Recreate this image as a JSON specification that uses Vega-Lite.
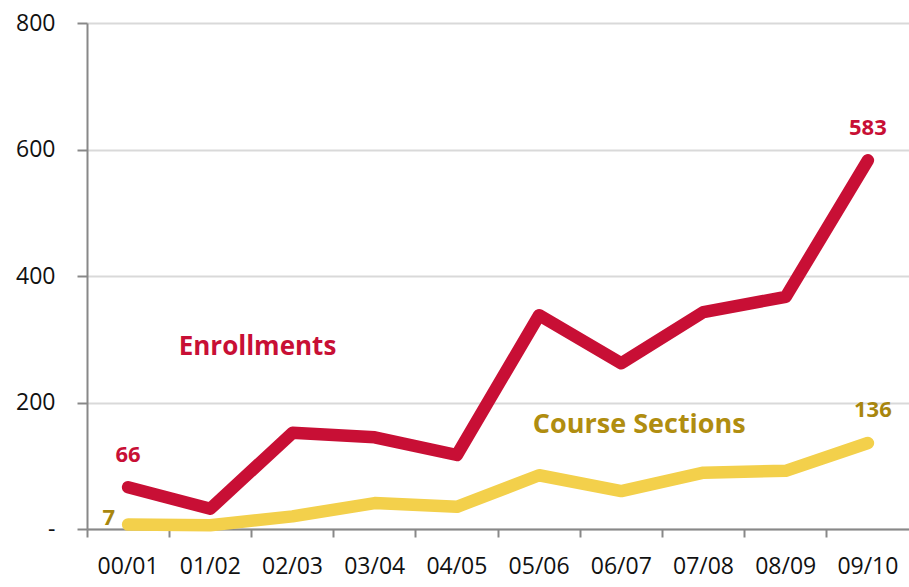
{
  "$schema": "https://vega.github.io/schema/vega-lite/v6.json",
  "width": 822,
  "height": 506,
  "autosize": {"type": "none"},
  "padding": {"left": 87, "top": 23, "right": 0, "bottom": 58},
  "background": "white",
  "config": {
    "view": {"stroke": null},
    "font": "Open Sans",
    "axis": {"labelFont": "Open Sans", "labelFontSize": 23, "labelColor": "#111111"}
  },
  "datasets": {
    "series": [
      {"year": "00/01", "series": "Course Sections", "value": 7},
      {"year": "01/02", "series": "Course Sections", "value": 6},
      {"year": "02/03", "series": "Course Sections", "value": 20},
      {"year": "03/04", "series": "Course Sections", "value": 41},
      {"year": "04/05", "series": "Course Sections", "value": 35},
      {"year": "05/06", "series": "Course Sections", "value": 85},
      {"year": "06/07", "series": "Course Sections", "value": 60},
      {"year": "07/08", "series": "Course Sections", "value": 89},
      {"year": "08/09", "series": "Course Sections", "value": 92},
      {"year": "09/10", "series": "Course Sections", "value": 136},
      {"year": "00/01", "series": "Enrollments", "value": 66},
      {"year": "01/02", "series": "Enrollments", "value": 32},
      {"year": "02/03", "series": "Enrollments", "value": 152},
      {"year": "03/04", "series": "Enrollments", "value": 145},
      {"year": "04/05", "series": "Enrollments", "value": 117},
      {"year": "05/06", "series": "Enrollments", "value": 338},
      {"year": "06/07", "series": "Enrollments", "value": 262},
      {"year": "07/08", "series": "Enrollments", "value": 343},
      {"year": "08/09", "series": "Enrollments", "value": 367},
      {"year": "09/10", "series": "Enrollments", "value": 583}
    ],
    "labels": [
      {"year": "00/01", "value": 66, "text": "66", "kind": "enr_top"},
      {"year": "09/10", "value": 583, "text": "583", "kind": "enr_top_r"},
      {"year": "09/10", "value": 136, "text": "136", "kind": "cs_top_r"},
      {"year": "00/01", "value": 7, "text": "7", "kind": "cs_left"},
      {"year": "02/03", "value": 288, "text": "Enrollments", "kind": "enr_name"},
      {"year": "06/07", "value": 164, "text": "Course Sections", "kind": "cs_name"}
    ]
  },
  "encoding": {
    "x": {
      "field": "year", "type": "ordinal", "axis": null,
      "scale": {"type": "band", "paddingInner": 0, "paddingOuter": 0,
        "domain": ["00/01","01/02","02/03","03/04","04/05","05/06","06/07","07/08","08/09","09/10"]}
    },
    "y": {
      "field": "value", "type": "quantitative",
      "scale": {"domain": [0, 800], "nice": false, "zero": true},
      "axis": {"title": null, "values": [0, 200, 400, 600, 800],
        "labelExpr": "datum.value == 0 ? '-\u00a0\u00a0' : datum.label",
        "tickSize": 10, "tickColor": "#888888", "tickWidth": 2,
        "domainColor": "#888888", "domainWidth": 2,
        "grid": true, "gridColor": "#d9d9d9", "gridWidth": 2,
        "labelPadding": 22}
    }
  },
  "layer": [
    {
      "data": {"name": "series"},
      "mark": {"type": "line", "strokeWidth": 12.5, "strokeCap": "round", "strokeJoin": "round"},
      "encoding": {
        "x": {
          "field": "year", "type": "ordinal",
          "axis": {"title": null, "orient": "bottom", "bandPosition": 0, "labels": false, "ticks": true, "tickSize": 8,
            "tickColor": "#888888", "tickWidth": 2, "domain": true, "domainColor": "#888888", "domainWidth": 2, "grid": false}
        },
        "color": {"field": "series", "type": "nominal", "legend": null,
          "scale": {"domain": ["Course Sections", "Enrollments"], "range": ["#F3D04B", "#C80F35"]}},
        "order": {"field": "year"}
      }
    },
    {
      "data": {"name": "labels"},
      "transform": [{"filter": "datum.kind == 'enr_top' || datum.kind == 'enr_top_r'"}],
      "mark": {"type": "text", "font": "Open Sans", "fontWeight": "bold", "fontSize": 22, "color": "#C80F35", "dy": -32, "baseline": "middle"},
      "encoding": {
        "x": {"field": "year", "type": "ordinal",
          "axis": {"title": null, "orient": "bottom", "labelAngle": 0, "labelPadding": 26, "tickSize": 8, "ticks": false, "domain": false, "grid": false}},
        "text": {"field": "text"}
      }
    },
    {
      "data": {"name": "labels"},
      "transform": [{"filter": "datum.kind == 'cs_top_r'"}],
      "mark": {"type": "text", "font": "Open Sans", "fontWeight": "bold", "fontSize": 22, "color": "#A8860E", "dy": -33, "dx": 5, "baseline": "middle"},
      "encoding": {"text": {"field": "text"}}
    },
    {
      "data": {"name": "labels"},
      "transform": [{"filter": "datum.kind == 'cs_left'"}],
      "mark": {"type": "text", "font": "Open Sans", "fontWeight": "bold", "fontSize": 22, "color": "#A8860E", "dx": -13, "dy": -7, "align": "right", "baseline": "middle"},
      "encoding": {"text": {"field": "text"}}
    },
    {
      "data": {"name": "labels"},
      "transform": [{"filter": "datum.kind == 'enr_name'"}],
      "mark": {"type": "text", "font": "Open Sans", "fontWeight": "bold", "fontSize": 26, "color": "#C80F35", "dx": -35, "baseline": "middle"},
      "encoding": {"text": {"field": "text"}}
    },
    {
      "data": {"name": "labels"},
      "transform": [{"filter": "datum.kind == 'cs_name'"}],
      "mark": {"type": "text", "font": "Open Sans", "fontWeight": "bold", "fontSize": 27, "color": "#B08D10", "dx": 18, "baseline": "middle"},
      "encoding": {"text": {"field": "text"}}
    }
  ],
  "resolve": {"axis": {"x": "independent"}}
}
